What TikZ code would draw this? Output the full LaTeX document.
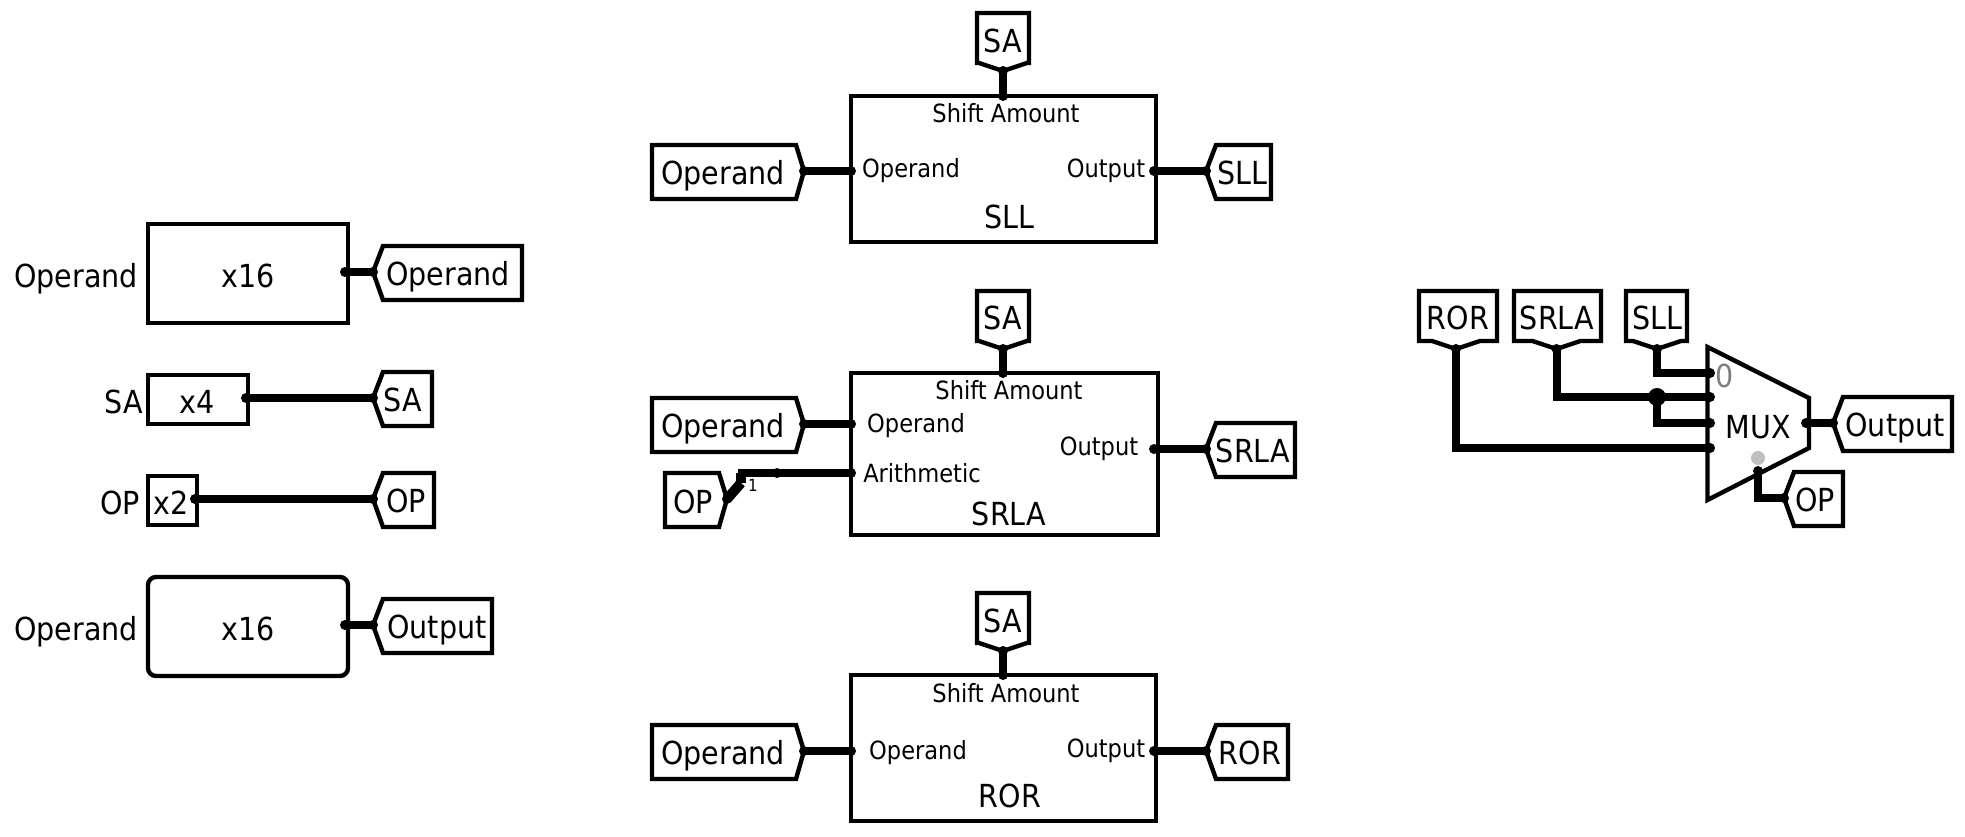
\documentclass[tikz,border=0pt]{standalone}
\usepackage{fontspec}
\setmainfont{DejaVu Sans}
\newfontfamily\narrowfont[FakeStretch=0.9]{DejaVu Sans}
\tikzset{
  x=0.75pt,y=-0.75pt,
  outline/.style={draw=black,line width=3.3pt,line join=miter,fill=white},
  blockbox/.style={outline,inner sep=0pt,outer sep=0pt},
  wire/.style={draw=black,line width=6pt,line join=miter,line cap=butt},
  big/.style={font=\narrowfont\fontsize{23.8pt}{26pt}\selectfont,inner sep=0pt,text height=17.4pt,text depth=0pt},
  small/.style={font=\narrowfont\fontsize{18.8pt}{21pt}\selectfont,inner sep=0pt,text height=13.7pt,text depth=0pt},
}
% left-pointing pin: name, tip x, tip y, right x
\newcommand{\pinL}[4]{%
  \coordinate (#1) at (#2,#3);
  \draw[outline] (#2,#3) -- ({#2+10},{#3-26}) -- (#4,{#3-26}) -- (#4,{#3+28}) -- ({#2+10},{#3+28}) -- cycle;}
% right-pointing pin: name, left x, tip x, tip y
\newcommand{\pinR}[4]{%
  \coordinate (#1) at (#3,#4);
  \draw[outline] (#2,{#4-26}) -- ({#3-8},{#4-26}) -- (#3,#4) -- ({#3-8},{#4+28}) -- (#2,{#4+28}) -- cycle;}
% down-pointing pin: name, tip x, half width left, half width right, top y, tip y
\newcommand{\pinD}[6]{%
  \coordinate (#1) at (#2,#6);
  \draw[outline] ({#2-#3},#5) -- ({#2+#4},#5) -- ({#2+#4},{#6-8}) -- ({#2+24},{#6-8}) -- (#2,#6) -- ({#2-24},{#6-8}) -- ({#2-#3},{#6-8}) -- cycle;}
\newcommand{\portdot}[1]{\fill (#1) circle[radius=5];}
\newcommand{\wire}[2]{\draw[wire] (#1) -- (#2); \portdot{#1}\portdot{#2}}
\begin{document}
\begin{tikzpicture}
\useasboundingbox[fill=white] (0,0) rectangle (1965,837);

% ---- left column
\node[blockbox,minimum width=150pt,minimum height=74.25pt] (bA) at (248,273.5) {};
\node[big] (tA) at (248,276) {x16};
\node[big] (lA) at (76,276) {Operand};
\pinL{pA}{373}{272}{522}
\node[big] (ptA) at (448,274) {Operand};
\coordinate (bAo) at (345,272);
\wire{bAo}{pA}

\node[blockbox,minimum width=75pt,minimum height=36.75pt] (bB) at (198,399.5) {};
\node[big] (tB) at (197,402) {x4};
\node[big] (lB) at (124,402) {SA};
\pinL{pB}{373}{398}{432}
\node[big] (ptB) at (403,400) {SA};
\coordinate (bBo) at (246,398);
\wire{bBo}{pB}

\node[blockbox,minimum width=37pt,minimum height=36.75pt] (bC) at (172.5,500.5) {};
\node[big] (tC) at (171,503) {x2};
\node[big] (lC) at (120,503) {OP};
\pinL{pC}{373}{499}{434}
\node[big] (ptC) at (406,501) {OP};
\coordinate (bCo) at (195,499);
\wire{bCo}{pC}

\node[blockbox,rounded corners=6pt,minimum width=150pt,minimum height=74.25pt] (bD) at (248,626.5) {};
\node[big] (tD) at (248,629) {x16};
\node[big] (lD) at (76,629) {Operand};
\pinL{pD}{373}{625}{492}
\node[big] (ptD) at (437,627) {Output};
\coordinate (bDo) at (345,625);
\wire{bDo}{pD}

% ---- SLL
\node[blockbox,minimum width=228.5pt,minimum height=109.5pt] (sll) at (1003.5,169) {};
\node[small] (sllsa) at (1006,113) {Shift Amount};
\node[small] (sllop) at (911,168) {Operand};
\node[small] (sllout) at (1106,168) {Output};
\node[big] (slln) at (1009,217) {SLL};
\pinD{sllpa}{1003}{26}{26}{13}{71}
\node[big] (sllpat) at (1003,41) {SA};
\coordinate (sllsap) at (1003,96);
\wire{sllpa}{sllsap}
\pinR{sllpb}{652}{804}{171}
\node[big] (sllpbt) at (723,173) {Operand};
\coordinate (sllopp) at (851,171);
\wire{sllpb}{sllopp}
\pinL{sllpc}{1206}{171}{1271}
\node[big] (sllpct) at (1242,173) {SLL};
\coordinate (slloutp) at (1154,171);
\wire{slloutp}{sllpc}

% ---- SRLA
\node[blockbox,minimum width=230pt,minimum height=121.5pt] (srla) at (1004.5,454) {};
\node[small] (srlasa) at (1009,390) {Shift Amount};
\node[small] (srlaop) at (916,423) {Operand};
\node[small] (srlaar) at (922,473) {Arithmetic};
\node[small] (srlaout) at (1099,446) {Output};
\node[big] (srlan) at (1009,514) {SRLA};
\pinD{srlapa}{1003}{26}{26}{291}{349}
\node[big] (srlapat) at (1003,318) {SA};
\coordinate (srlasap) at (1003,373);
\wire{srlapa}{srlasap}
\pinR{srlapb}{652}{804}{424}
\node[big] (srlapbt) at (723,426) {Operand};
\coordinate (srlaopp) at (851,424);
\wire{srlapb}{srlaopp}
\pinL{srlapc}{1206}{449}{1295}
\node[big] (srlapct) at (1253,451) {SRLA};
\coordinate (srlaoutp) at (1154,449);
\wire{srlaoutp}{srlapc}
% OP input with splitter
\pinR{srlapd}{665}{727}{499}
\node[big] (srlapdt) at (693,502) {OP};
\coordinate (srlaarp) at (851,473);
\coordinate (spl) at (741,473);
\coordinate (splb) at (741,483);
\draw[wire] (srlaarp) -- (spl) -- ++(-3.5,0);
\draw[draw=black,line width=7.5pt] (spl) -- (splb);
\draw[draw=black,line width=7.5pt] (splb) -- (srlapd);
\portdot{srlaarp}\portdot{srlapd}
\coordinate (spld) at (777,473);
\portdot{spld}
\node[font=\narrowfont\fontsize{12.5pt}{14pt}\selectfont,inner sep=0pt] (spln) at (753,485) {1};

% ---- ROR
\node[blockbox,minimum width=228.5pt,minimum height=109.5pt] (ror) at (1003.5,748) {};
\node[small] (rorsa) at (1006,693) {Shift Amount};
\node[small] (rorop) at (918,750) {Operand};
\node[small] (rorout) at (1106,748) {Output};
\node[big] (rorn) at (1010,796) {ROR};
\pinD{rorpa}{1003}{26}{26}{593}{651}
\node[big] (rorpat) at (1003,621) {SA};
\coordinate (rorsap) at (1003,675);
\wire{rorpa}{rorsap}
\pinR{rorpb}{652}{804}{751}
\node[big] (rorpbt) at (723,753) {Operand};
\coordinate (roropp) at (851,751);
\wire{rorpb}{roropp}
\pinL{rorpc}{1206}{751}{1288}
\node[big] (rorpct) at (1250,753) {ROR};
\coordinate (roroutp) at (1154,751);
\wire{roroutp}{rorpc}

% ---- MUX
\coordinate (m0) at (1710,373);
\coordinate (m1) at (1710,397);
\coordinate (m2) at (1710,423);
\coordinate (m3) at (1710,448);
\coordinate (mj) at (1657,397);
\coordinate (mout) at (1806,423);
\coordinate (msel) at (1758,471);
\pinD{mrp}{1456}{37}{41}{291}{349}
\node[big] (mrt) at (1458,318) {ROR};
\pinD{msp}{1556.5}{42.5}{44.5}{291}{349}
\node[big] (mst) at (1557,318) {SRLA};
\pinD{mlp}{1657}{31}{30}{291}{349}
\node[big] (mlt) at (1657,318) {SLL};
\draw[wire] (mrp) |- (m3);
\draw[wire] (msp) |- (m1);
\draw[wire] (mlp) |- (m0);
\draw[wire] (mj) |- (m2);
\fill (mj) circle[radius=9];
\portdot{mrp}\portdot{msp}\portdot{mlp}
\draw[outline,fill=none] (1707.5,347) -- (1809,398) -- (1809,448) -- (1707.5,500) -- cycle;
\portdot{m0}\portdot{m1}\portdot{m2}\portdot{m3}
\node[big] (mt) at (1758,427) {MUX};
\node[big,text=black!50] (mz) at (1725,376) {0};
\fill[black!25] (1758,458) circle[radius=7];
\pinL{mop}{1833}{423}{1952}
\node[big] (mopt) at (1895,425) {Output};
\wire{mout}{mop}
\pinL{mos}{1784}{498}{1843}
\node[big] (most) at (1815,500) {OP};
\draw[wire] (msel) |- (mos);
\portdot{msel}\portdot{mos}
\end{tikzpicture}
\end{document}
